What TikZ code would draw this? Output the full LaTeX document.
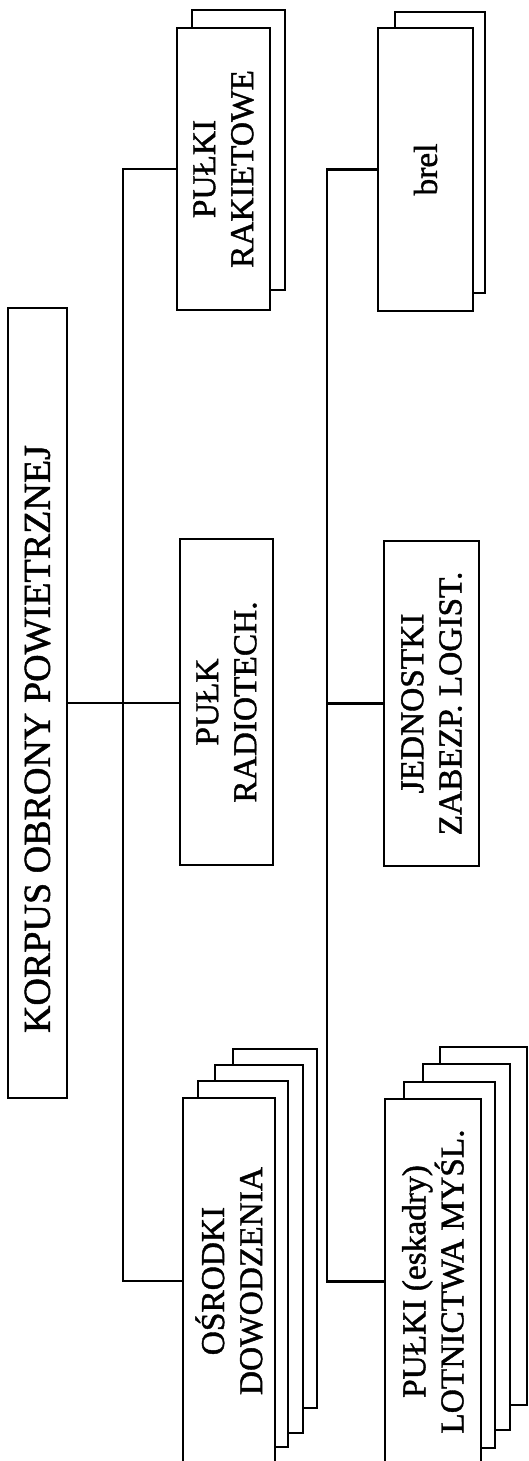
\documentclass[tikz,border=0pt]{standalone}
\usepackage{fontspec}
\setmainfont{Liberation Serif}[FakeBold=1.2]
\tikzset{
	sheet/.style={draw,fill=white,line width=2.1pt,rotate=90,inner sep=0pt},
	unit/.style={sheet,align=center,font=\fontsize{28.5}{32.5}\selectfont},
	link/.style={line width=2.1pt}
}
\begin{document}
\begin{tikzpicture}[x=0.03cm,y=-0.03cm]
	\useasboundingbox (0,0) rectangle (528,1461);

	\node[unit,minimum width=23.7cm,minimum height=1.77cm,font=\fontsize{32.5}{38}\selectfont] (korpus) at (37.5,703) {KORPUS OBRONY POWIETRZNEJ\hspace*{2.16cm}};

	% first column
	\node[sheet,minimum width=8.4cm,minimum height=2.79cm] (rak2) at (238.5,150) {};
	\node[unit,minimum width=8.46cm,minimum height=2.79cm] (rakiet) at (223.5,169) {PUŁKI\\RAKIETOWE};
	\node[unit,minimum width=9.78cm,minimum height=2.79cm] (radio) at (226.5,702) {PUŁK\\RADIOTECH.};
	\node[sheet,minimum width=10.77cm,minimum height=2.52cm] (osr4) at (275,1228.5) {};
	\node[sheet,minimum width=11.04cm,minimum height=2.64cm] (osr3) at (259,1249) {};
	\node[sheet,minimum width=10.98cm,minimum height=2.7cm] (osr2) at (243,1264) {};
	\node[unit,minimum width=10.98cm,minimum height=2.76cm] (osrodki) at (229,1281) {OŚRODKI\\DOWODZENIA};

	% second column
	\node[sheet,minimum width=8.43cm,minimum height=2.7cm] (brel2) at (440,152.5) {};
	\node[unit,minimum width=8.49cm,minimum height=2.85cm] (brel) at (425.5,169.5) {brel};
	\node[unit,minimum width=9.75cm,minimum height=2.85cm] (jedn) at (431.5,703.5) {JEDNOSTKI\\ZABEZP. LOGIST.};
	\node[sheet,minimum width=10.74cm,minimum height=2.61cm] (pul4) at (483.5,1226) {};
	\node[sheet,minimum width=10.98cm,minimum height=2.61cm] (pul3) at (466.5,1247) {};
	\node[sheet,minimum width=10.98cm,minimum height=2.73cm] (pul2) at (449.5,1265) {};
	\node[unit,minimum width=10.95cm,minimum height=2.88cm] (pulki) at (433,1281.5) {PUŁKI (eskadry)\\LOTNICTWA MYŚL.};

	\coordinate (bus1) at (123,0);
	\coordinate (bus2) at (327,0);

	\draw[link] (korpus.south) -- (korpus.south -| radio.north);
	\draw[link] (rakiet.north) -| (bus1 |- osrodki.north) -- (osrodki.north);
	\draw[link] (brel.north) -| (bus2 |- pulki.north) -- (pulki.north);
	\draw[link] (jedn.north) -- (jedn.north -| bus2);
\end{tikzpicture}
\end{document}
